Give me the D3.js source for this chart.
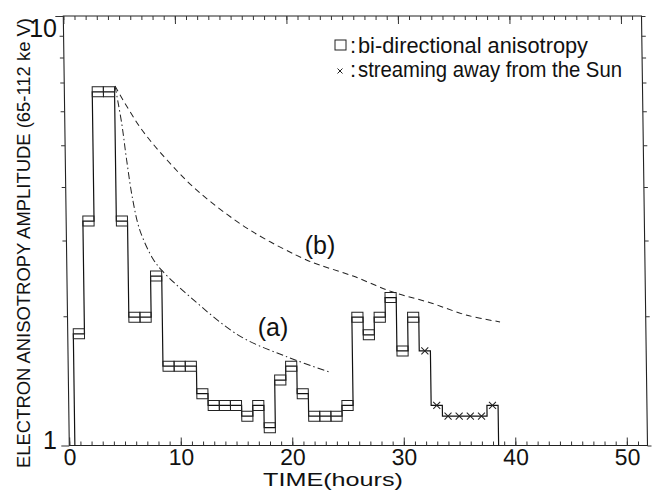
<!DOCTYPE html>
<html><head><meta charset="utf-8">
<script src="https://cdn.jsdelivr.net/npm/d3@7"></script>
<style>
html,body{margin:0;padding:0;background:#fff;}
text{font-family:"Liberation Sans",Arial,Helvetica,sans-serif;fill:#111;}
</style></head>
<body><svg id="c" width="652" height="490"></svg>
<script>
// ---- data ----
const hours = d3.range(1, 39);
const amplitude = [1.82,3.33,6.66,6.66,3.33,1.99,1.99,2.48,1.53,1.53,1.53,1.32,1.24,1.24,1.24,1.17,1.24,1.10,1.42,1.53,
                   1.32,1.17,1.17,1.17,1.24,1.99,1.81,1.99,2.21,1.66,1.99,1.66,1.24,1.17,1.17,1.17,1.17,1.24];
const markerType = hours.map(h => h <= 31 ? "bi" : "away");
const curveA_t = [4.55,5.1,5.5,6.0,6.6,7.7,8.5,11.0,15.4,19.6,23.5];
const curveA_v = [6.87,5.63,4.62,3.73,3.17,2.73,2.56,2.22,1.80,1.61,1.48];
const curveB_t = [4.55,6.74,9.12,11.95,16.5,21.55,22.7,25.66,29.12,32.54,35.83,38.78];
const curveB_v = [6.87,5.51,4.62,3.89,3.17,2.70,2.63,2.48,2.28,2.15,2.01,1.94];
const xMajor = [0,10,20,30,40,50];
const xMinor = d3.range(0, 52, 1);
const yMajor = [1,10];
const yMinor = [2,3,4,5,6,7,8,9];
const legendLabels = ["bi-directional anisotropy","streaming away from the Sun"];

// ---- layout ----
const svg = d3.select("#c");
const T = 16, B = 445.5, L = 63.3, R = 641.5;
const shear = 6/(B-T);
const x = d3.scaleLinear().domain([0,51.85]).range([L,R]);
const y = d3.scaleLog().domain([1,10]).range([B,T]);

svg.append("rect").attr("width",652).attr("height",490).attr("fill","#fff");
const g = svg.append("g")
  .attr("transform",`translate(${-shear*T},0) skewX(${Math.atan(shear)*180/Math.PI})`);

g.append("rect").attr("x",L).attr("y",T).attr("width",R-L).attr("height",B-T)
  .attr("fill","none").attr("stroke","#222").attr("stroke-width",1.1);

function axisStyle(sel){ sel.select(".domain").remove(); sel.selectAll("line").attr("stroke","#333").attr("stroke-width",1); }
g.append("g").attr("transform",`translate(0,${B})`)
  .call(d3.axisBottom(x).tickValues(xMinor).tickSize(-4).tickFormat("")).call(axisStyle);
g.append("g").attr("transform",`translate(0,${B})`)
  .call(d3.axisBottom(x).tickValues(xMajor).tickSize(-8).tickPadding(3.5).tickFormat(d3.format("d")))
  .call(axisStyle)
  .selectAll("text").attr("font-size",23).attr("fill","#111").style("font-family","Liberation Sans, Arial");
g.append("g").attr("transform",`translate(0,${T})`)
  .call(d3.axisTop(x).tickValues(xMinor).tickSize(-4).tickFormat("")).call(axisStyle);
g.append("g").attr("transform",`translate(0,${T})`)
  .call(d3.axisTop(x).tickValues(xMajor).tickSize(-8).tickFormat("")).call(axisStyle);
g.append("g").attr("transform",`translate(${L},0)`)
  .call(d3.axisLeft(y).tickValues(yMinor).tickSize(4).tickFormat("")).call(axisStyle);
g.append("g").attr("transform",`translate(${L},0)`)
  .call(d3.axisLeft(y).tickValues(yMajor).tickSize(8).tickFormat("")).call(axisStyle);
g.append("g").attr("transform",`translate(${R},0)`)
  .call(d3.axisRight(y).tickValues(yMinor.concat(yMajor)).tickSize(4).tickFormat("")).call(axisStyle);

// y tick labels
svg.append("text").attr("x",57).attr("y",y(10)+21).attr("text-anchor","end").attr("font-size",25).text("10");
svg.append("text").attr("x",57).attr("y",y(1)+3.5).attr("text-anchor","end").attr("font-size",25).text("1");

// step line
const stepPts = [[hours[0]-0.5,1]];
hours.forEach((h,i)=>{ stepPts.push([h-0.5,amplitude[i]]); stepPts.push([h+0.5,amplitude[i]]); });
stepPts.push([hours[hours.length-1]+0.5,1]);
g.append("path").datum(stepPts)
  .attr("d", d3.line().x(d=>x(d[0])).y(d=>y(d[1])))
  .attr("fill","none").attr("stroke","#111").attr("stroke-width",1.2);

// markers
const pts = hours.map((h,i)=>({h, v:amplitude[i], t:markerType[i]}));
g.selectAll("rect.bi").data(pts.filter(d=>d.t==="bi")).join("rect").attr("class","bi")
  .attr("x",d=>x(d.h-0.5)).attr("width",d=>x(d.h+0.5)-x(d.h-0.5))
  .attr("y",d=>y(d.v)-5).attr("height",10)
  .attr("fill","none").attr("stroke","#222").attr("stroke-width",1);
g.selectAll("path.away").data(pts.filter(d=>d.t==="away")).join("path").attr("class","away")
  .attr("d",d=>{const cx=x(d.h), cy=y(d.v), s=3.5; return `M${cx-s},${cy-s}L${cx+s},${cy+s}M${cx-s},${cy+s}L${cx+s},${cy-s}`;})
  .attr("stroke","#222").attr("stroke-width",1).attr("fill","none");

// curves
const lineC = d3.line().x(d=>x(d[0])).y(d=>y(d[1])).curve(d3.curveCatmullRom);
g.append("path").datum(curveA_t.map((t,i)=>[t,curveA_v[i]])).attr("d",lineC)
  .attr("fill","none").attr("stroke","#222").attr("stroke-width",1).attr("stroke-dasharray","7,3,1.5,3");
g.append("path").datum(curveB_t.map((t,i)=>[t,curveB_v[i]])).attr("d",lineC)
  .attr("fill","none").attr("stroke","#222").attr("stroke-width",1).attr("stroke-dasharray","6,4");

svg.append("text").attr("x",273).attr("y",336).attr("text-anchor","middle").attr("font-size",25).text("(a)");
svg.append("text").attr("x",320).attr("y",254).attr("text-anchor","middle").attr("font-size",25).text("(b)");

// legend
const lg = svg.append("g");
lg.append("rect").attr("x",335).attr("y",40).attr("width",11).attr("height",10).attr("fill","none").attr("stroke","#222").attr("stroke-width",1);
lg.append("path").attr("d","M337.5,68.5L342.5,73.5M337.5,73.5L342.5,68.5").attr("stroke","#222").attr("stroke-width",1);
lg.append("text").attr("x",350).attr("y",53).attr("font-size",22).text(":");
lg.append("text").attr("x",350).attr("y",77).attr("font-size",22).text(":");
lg.append("text").attr("x",358).attr("y",53).attr("font-size",22)
  .attr("textLength",230).attr("lengthAdjust","spacingAndGlyphs").text(legendLabels[0]);
lg.append("text").attr("x",358).attr("y",77).attr("font-size",22)
  .attr("textLength",264).attr("lengthAdjust","spacingAndGlyphs").text(legendLabels[1]);

// axis titles
svg.append("text").attr("x",333).attr("y",485.5).attr("text-anchor","middle").attr("font-size",19)
  .attr("textLength",140).attr("lengthAdjust","spacingAndGlyphs").text("TIME(hours)");
svg.append("text").attr("transform","translate(30,243) rotate(-90)").attr("text-anchor","middle").attr("font-size",19)
  .attr("textLength",450).attr("lengthAdjust","spacingAndGlyphs")
  .text("ELECTRON ANISOTROPY AMPLITUDE (65-112 ke V)");
</script></body></html>
